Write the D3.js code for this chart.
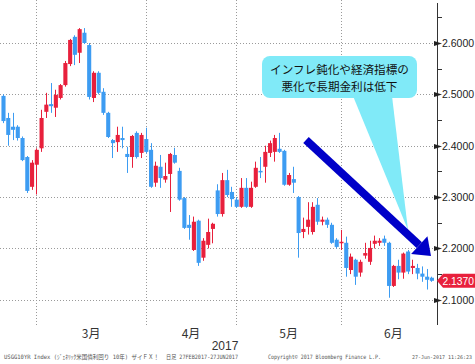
<!DOCTYPE html>
<html><head><meta charset="utf-8">
<script src="https://cdn.jsdelivr.net/npm/d3@7"></script>
<style>body{margin:0;background:#fff}svg{display:block}</style>
</head><body>
<script>
// ---- data (daily OHLC, USGG10YR, trading days) ----
const openV = [
2.497,2.454,2.437,2.437,2.415,2.378,2.320,2.363,2.395,2.466,
2.481,2.474,2.493,2.518,2.559,2.612,2.581,2.620,2.596,2.493,
2.542,2.505,2.464,2.411,2.407,2.415,2.384,2.378,2.425,2.386,
2.413,2.392,2.328,2.359,2.334,2.345,2.382,2.351,2.298,2.246,
2.197,2.254,2.182,2.207,2.238,2.313,2.267,2.333,2.310,2.295,
2.281,2.318,2.281,2.320,2.351,2.359,2.386,2.388,2.394,2.390,
2.324,2.335,2.300,2.232,2.242,2.232,2.285,2.252,2.256,2.246,
2.217,2.211,2.211,2.158,2.178,2.153,2.186,2.174,2.209,2.211,
2.219,2.211,2.127,2.166,2.153,2.194,2.162,2.162,2.151,2.145,
2.143];
const highV = [
2.500,2.464,2.464,2.440,2.418,2.380,2.372,2.395,2.470,2.503,
2.522,2.509,2.520,2.565,2.608,2.615,2.629,2.629,2.600,2.545,
2.545,2.512,2.466,2.413,2.437,2.437,2.398,2.421,2.428,2.425,
2.435,2.405,2.369,2.382,2.367,2.386,2.396,2.357,2.300,2.265,
2.262,2.256,2.220,2.258,2.250,2.325,2.347,2.353,2.320,2.300,
2.337,2.337,2.330,2.369,2.378,2.400,2.410,2.421,2.425,2.392,
2.347,2.359,2.302,2.260,2.290,2.290,2.298,2.262,2.260,2.250,
2.220,2.236,2.223,2.190,2.180,2.178,2.211,2.215,2.225,2.220,
2.225,2.213,2.168,2.178,2.192,2.197,2.178,2.170,2.165,2.160,
2.145];
const lowV = [
2.444,2.400,2.411,2.410,2.370,2.308,2.314,2.305,2.388,2.454,
2.464,2.456,2.490,2.515,2.555,2.557,2.561,2.598,2.490,2.485,
2.500,2.460,2.415,2.376,2.388,2.395,2.347,2.357,2.375,2.376,
2.385,2.318,2.320,2.318,2.328,2.271,2.365,2.293,2.238,2.217,
2.195,2.166,2.176,2.200,2.210,2.262,2.262,2.300,2.281,2.279,
2.279,2.279,2.279,2.318,2.337,2.328,2.378,2.369,2.386,2.322,
2.322,2.308,2.182,2.220,2.227,2.227,2.246,2.245,2.240,2.209,
2.200,2.197,2.145,2.150,2.129,2.145,2.180,2.168,2.200,2.205,
2.205,2.104,2.125,2.140,2.141,2.150,2.150,2.140,2.135,2.120,
2.135];
const closeV = [
2.448,2.421,2.431,2.415,2.372,2.312,2.367,2.392,2.454,2.480,
2.477,2.499,2.518,2.561,2.606,2.577,2.627,2.600,2.495,2.542,
2.503,2.464,2.417,2.405,2.421,2.411,2.378,2.419,2.378,2.421,
2.388,2.320,2.361,2.337,2.341,2.384,2.367,2.295,2.240,2.240,
2.252,2.172,2.215,2.232,2.248,2.267,2.333,2.304,2.296,2.281,
2.318,2.281,2.318,2.357,2.349,2.388,2.405,2.415,2.388,2.324,
2.343,2.328,2.230,2.238,2.256,2.281,2.252,2.256,2.246,2.211,
2.203,2.213,2.162,2.184,2.145,2.174,2.191,2.201,2.215,2.215,
2.211,2.127,2.166,2.153,2.190,2.155,2.166,2.151,2.145,2.139,
2.137];
const monthStartIdx = [7, 30, 49, 71, 93];     // first trading day of Mar, Apr, May, Jun, (Jul)
const monthLabels = ["3月", "4月", "5月", "6月"];
const yearLabel = "2017";
const yTicks = [2.1, 2.2, 2.3, 2.4, 2.5, 2.6];
const yMinorTicks = [2.15, 2.25, 2.35, 2.45, 2.55, 2.65];
const lastValue = 2.1370;
const calloutLines = ["インフレ鈍化や経済指標の", "悪化で長期金利は低下"];
const footer = ["USGG10YR Index (ｼﾞｪﾈﾘｯｸ米国債利回り 10年) ザイＦＸ！", "日足 27FEB2017-27JUN2017", "Copyright© 2017 Bloomberg Finance L.P.", "27-Jun-2017 11:26:23"];

const W = 475, H = 364;
const RED = "#e8203c", BLUE = "#3d9cf2";
const svg = d3.select("body").append("svg").attr("width", W).attr("height", H)
  .style("font-family", "'Liberation Sans', Arial, sans-serif");
svg.append("rect").attr("width", W).attr("height", H).attr("fill", "#fff");

const n = openV.length;
const x = d3.scaleLinear().domain([-0.5, n - 0.5]).range([0.62, 433.8]);
const y = d3.scaleLinear().domain([2.1, 2.6]).range([299.8, 43]);
const axisX = 437, plotTop = 3, plotBottom = 325;
const step = x(1) - x(0);

// gridlines
const grid = svg.append("g").attr("stroke", "#9a9a9a").attr("stroke-width", 1).attr("stroke-dasharray", "1,2");
grid.selectAll("line.h").data(yTicks).join("line")
  .attr("x1", 0).attr("x2", axisX).attr("y1", d => Math.round(y(d)) + 0.5).attr("y2", d => Math.round(y(d)) + 0.5);
grid.selectAll("line.v").data(monthStartIdx.slice(0, 4)).join("line")
  .attr("x1", d => Math.round(x(d)) + 0.5).attr("x2", d => Math.round(x(d)) + 0.5)
  .attr("y1", 0).attr("y2", plotBottom);

// candles
const idx = d3.range(n);
const cg = svg.append("g");
cg.selectAll("line.w").data(idx).join("line")
  .attr("x1", i => Math.round(x(i)) + 0.5).attr("x2", i => Math.round(x(i)) + 0.5)
  .attr("y1", i => y(highV[i])).attr("y2", i => y(lowV[i]))
  .attr("stroke", i => closeV[i] >= openV[i] ? RED : BLUE).attr("stroke-width", 1);
const bw = step * 0.86;
cg.selectAll("rect").data(idx).join("rect")
  .attr("x", i => x(i) - bw / 2 + 0.5).attr("width", bw)
  .attr("y", i => y(Math.max(openV[i], closeV[i])))
  .attr("height", i => Math.max(1.5, Math.abs(y(openV[i]) - y(closeV[i]))))
  .attr("fill", i => closeV[i] >= openV[i] ? RED : BLUE);

// right axis
svg.append("line").attr("x1", axisX + 0.5).attr("x2", axisX + 0.5).attr("y1", plotTop).attr("y2", plotBottom)
  .attr("stroke", "#333").attr("stroke-width", 1);
svg.append("g").selectAll("line").data(yMinorTicks).join("line")
  .attr("x1", axisX).attr("x2", axisX + 5).attr("y1", d => Math.round(y(d)) + 0.5).attr("y2", d => Math.round(y(d)) + 0.5)
  .attr("stroke", "#333");
const tk = svg.append("g");
tk.selectAll("path").data(yTicks).join("path")
  .attr("d", d => { const yy = Math.round(y(d)) + 0.5; return `M${axisX - 3},${yy - 2.5}L${axisX + 5},${yy}L${axisX - 3},${yy + 2.5}Z`; })
  .attr("fill", "#222");
tk.selectAll("text").data(yTicks).join("text")
  .attr("x", 442).attr("y", d => y(d) + 4).attr("font-size", "10.5px").attr("fill", "#222")
  .text(d => d3.format(".4f")(d));

// last price tag
const ly = y(lastValue);
svg.append("path").attr("d", `M${axisX},${ly}L${axisX + 6},${ly - 7}L${W},${ly - 7}L${W},${ly + 7}L${axisX + 6},${ly + 7}Z`)
  .attr("fill", RED);
svg.append("text").attr("x", 442.5).attr("y", ly + 4).attr("font-size", "10.3px").attr("fill", "#fff").text(d3.format(".4f")(lastValue));

// month labels
const mg = svg.append("g").attr("font-size", "12px").attr("fill", "#333").attr("text-anchor", "middle")
  .style("font-family", "'Noto Sans CJK JP', 'Liberation Sans', sans-serif");
mg.selectAll("text").data(monthLabels).join("text")
  .attr("x", (d, k) => (x(monthStartIdx[k]) + x(monthStartIdx[k + 1])) / 2).attr("y", 338).text(d => d);
svg.append("text").attr("x", 225).attr("y", 350).attr("text-anchor", "middle").attr("font-size", "12px").attr("fill", "#333").text(yearLabel);

// footer
const fx = [[4, 155, 6], [166, 72, 6], [268, 113, 6], [412, 60, 5]];
svg.append("g").attr("fill", "#555")
  .style("font-family", "'DejaVu Sans Mono', 'Noto Sans CJK JP', monospace")
  .selectAll("text").data(footer).join("text")
  .attr("x", (d, k) => fx[k][0]).attr("y", 359).attr("font-size", (d, k) => fx[k][2] + "px")
  .attr("textLength", (d, k) => fx[k][1]).attr("lengthAdjust", "spacingAndGlyphs")
  .text(d => d);

// callout
const CY = "#80eaf8";
svg.append("path").attr("d", "M353,96L408,230L392,96Z").attr("fill", CY);
svg.append("rect").attr("x", 262).attr("y", 56).attr("width", 155).attr("height", 42).attr("rx", 8).attr("fill", CY);
svg.append("g").attr("font-size", "11.6px").attr("fill", "#111").attr("text-anchor", "middle")
  .style("font-family", "'Noto Sans CJK JP', sans-serif")
  .selectAll("text").data(calloutLines).join("text")
  .attr("x", 339.5).attr("y", (d, k) => 74 + k * 17).text(d => d);

// blue arrow
const AB = "#0000c8";
const x0 = 306, y0 = 140, x1 = 431, y1 = 256;
const ang = Math.atan2(y1 - y0, x1 - x0), L = 16, hw = 12;
const bx = x1 - L * Math.cos(ang), by = y1 - L * Math.sin(ang);
svg.append("line").attr("x1", x0).attr("y1", y0).attr("x2", bx).attr("y2", by)
  .attr("stroke", AB).attr("stroke-width", 8);
svg.append("path").attr("d", `M${x1},${y1}L${bx + hw * Math.sin(ang)},${by - hw * Math.cos(ang)}L${bx - hw * Math.sin(ang)},${by + hw * Math.cos(ang)}Z`)
  .attr("fill", AB);
</script>
</body></html>
